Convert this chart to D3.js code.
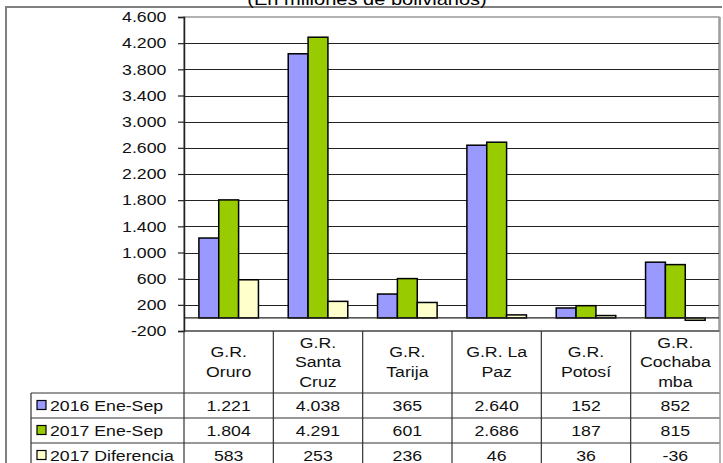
<!DOCTYPE html>
<html>
<head>
<meta charset="utf-8">
<script src="https://cdn.jsdelivr.net/npm/d3@7"></script>
<style>
  body { margin: 0; background: #fff; }
  svg { display: block; font-family: Arial, "Liberation Sans", sans-serif; }
</style>
</head>
<body>
<div id="graf"></div>
<script>
// Datos (millones de bolivianos)
const regiones = [['G.R.', 'Oruro'], ['G.R.', 'Santa', 'Cruz'], ['G.R.', 'Tarija'],
                  ['G.R. La', 'Paz'], ['G.R.', 'Potosí'], ['G.R.', 'Cochaba', 'mba']]
const series = ['2016 Ene-Sep', '2017 Ene-Sep', '2017 Diferencia']
const v2016 = [1221, 4038, 365, 2640, 152, 852]
const v2017 = [1804, 4291, 601, 2686, 187, 815]
const vDif  = [583, 253, 236, 46, 36, -36]
const yTicks = [-200, 200, 600, 1000, 1400, 1800, 2200, 2600, 3000, 3400, 3800, 4200, 4600]
const titulo = '(En millones de bolivianos)'

const valores = [v2016, v2017, vDif]
const colores = ['#9999ff', '#99cc00', '#ffffcc']

const W = 723, H = 463
const SX = 1.18   // texto algo ensanchado como en el original
const FS = 15

const svg = d3.select('#graf').append('svg')
  .attr('width', W).attr('height', H)

const plot = { left: 184, right: 719, top: 17, bottom: 331 }
const tabla = { left: 31, right: 720, filas: [331, 393, 418, 443, 468] }

// Escaladores
const x0 = d3.scaleBand().domain(d3.range(regiones.length))
  .range([plot.left, tabla.right]).padding(0)
const x1 = d3.scaleBand().domain(d3.range(series.length))
  .range([0, x0.bandwidth()]).paddingInner(0).paddingOuter(0.75)
const y = d3.scaleLinear().domain([-200, 4600]).range([plot.bottom, plot.top])

const fmt = d3.formatLocale({ decimal: ',', thousands: '.', grouping: [3], currency: ['', ''], minus: '-' }).format(',d')

// marco exterior
svg.append('path')
  .attr('d', `M6,${H} V7 H722`)
  .attr('fill', 'none').attr('stroke', '#808080').attr('stroke-width', 2)

// titulo (cortado arriba, como en el original)
svg.append('text')
  .attr('transform', `translate(367, 5) scale(${SX},1)`)
  .attr('text-anchor', 'middle')
  .attr('font-size', 17)
  .text(titulo)

// area de grafico
svg.append('rect')
  .attr('x', plot.left).attr('y', plot.top)
  .attr('width', plot.right - plot.left).attr('height', plot.bottom - plot.top)
  .attr('fill', '#fff').attr('stroke', '#999').attr('stroke-width', 1.5)

// lineas de division
svg.append('g').selectAll('line')
  .data(yTicks.filter(t => t > -200 && t < 4600))
  .join('line')
  .attr('x1', plot.left).attr('x2', plot.right)
  .attr('y1', d => Math.round(y(d)) + 0.5).attr('y2', d => Math.round(y(d)) + 0.5)
  .attr('stroke', '#222').attr('stroke-width', 1)

// barras
const grupos = svg.append('g').selectAll('g')
  .data(series).join('g')
  .attr('fill', (d, i) => colores[i])

grupos.selectAll('rect')
  .data((s, i) => valores[i].map((v, j) => ({ v, j, i })))
  .join('rect')
  .attr('x', d => x0(d.j) + x1(d.i))
  .attr('width', x1.bandwidth())
  .attr('y', d => y(Math.max(0, d.v)))
  .attr('height', d => Math.abs(y(d.v) - y(0)))
  .attr('stroke', '#000').attr('stroke-width', 1.5)

// eje cero
svg.append('line')
  .attr('x1', plot.left).attr('x2', plot.right)
  .attr('y1', y(0)).attr('y2', y(0))
  .attr('stroke', '#222').attr('stroke-width', 1.2)

// eje Y
const yAxis = svg.append('g')
  .attr('transform', `translate(${plot.left},0)`)
  .call(d3.axisLeft(y).tickValues(yTicks).tickSize(6).tickPadding(9).tickFormat(fmt))
yAxis.select('.domain').attr('stroke', '#222').attr('stroke-width', 1.5)
yAxis.selectAll('.tick line').attr('stroke', '#222').attr('stroke-width', 1.2)
yAxis.selectAll('text')
  .attr('font-size', FS).attr('fill', '#111')
  .attr('font-family', 'Arial, "Liberation Sans", sans-serif')
  .attr('transform', `scale(${SX},1)`)

// tabla de datos
const t = svg.append('g').attr('stroke', '#333').attr('stroke-width', 1.2)
t.append('line').attr('x1', plot.left).attr('x2', tabla.right)
  .attr('y1', tabla.filas[0]).attr('y2', tabla.filas[0])
tabla.filas.slice(1).forEach(f => {
  t.append('line').attr('x1', tabla.left).attr('x2', tabla.right).attr('y1', f).attr('y2', f)
})
x0.domain().forEach(j => {
  t.append('line').attr('x1', x0(j)).attr('x2', x0(j))
    .attr('y1', j === 0 ? plot.bottom : tabla.filas[0]).attr('y2', H)
})
t.append('line').attr('x1', tabla.right).attr('x2', tabla.right)
  .attr('y1', plot.top).attr('y2', H).attr('stroke', '#999').attr('stroke-width', 1.5)
t.append('line').attr('x1', tabla.left).attr('x2', tabla.left)
  .attr('y1', tabla.filas[1]).attr('y2', H)

// nombres de regiones
const lh = 19.5
const cabecera = svg.append('g').attr('font-size', FS).attr('fill', '#111').attr('text-anchor', 'middle')
regiones.forEach((lineas, j) => {
  const cy = (tabla.filas[0] + tabla.filas[1]) / 2
  lineas.forEach((l, k) => {
    const yy = cy + (k - (lineas.length - 1) / 2) * lh + 5
    cabecera.append('text')
      .attr('transform', `translate(${x0(j) + x0.bandwidth() / 2},${yy}) scale(${SX},1)`)
      .text(l)
  })
})

// filas de valores
series.forEach((s, i) => {
  const cy = (tabla.filas[i + 1] + tabla.filas[i + 2]) / 2
  const fila = svg.append('g').attr('font-size', FS).attr('fill', '#111')
  fila.append('rect')
    .attr('x', 37).attr('y', cy - 5).attr('width', 9).attr('height', 9)
    .attr('fill', colores[i]).attr('stroke', '#000').attr('stroke-width', 1.2)
  fila.append('text')
    .attr('transform', `translate(50,${cy + 5}) scale(${SX},1)`)
    .text(s)
  valores[i].forEach((v, j) => {
    fila.append('text')
      .attr('text-anchor', 'middle')
      .attr('transform', `translate(${x0(j) + x0.bandwidth() / 2},${cy + 5}) scale(${SX},1)`)
      .text(fmt(v))
  })
})
</script>
</body>
</html>
